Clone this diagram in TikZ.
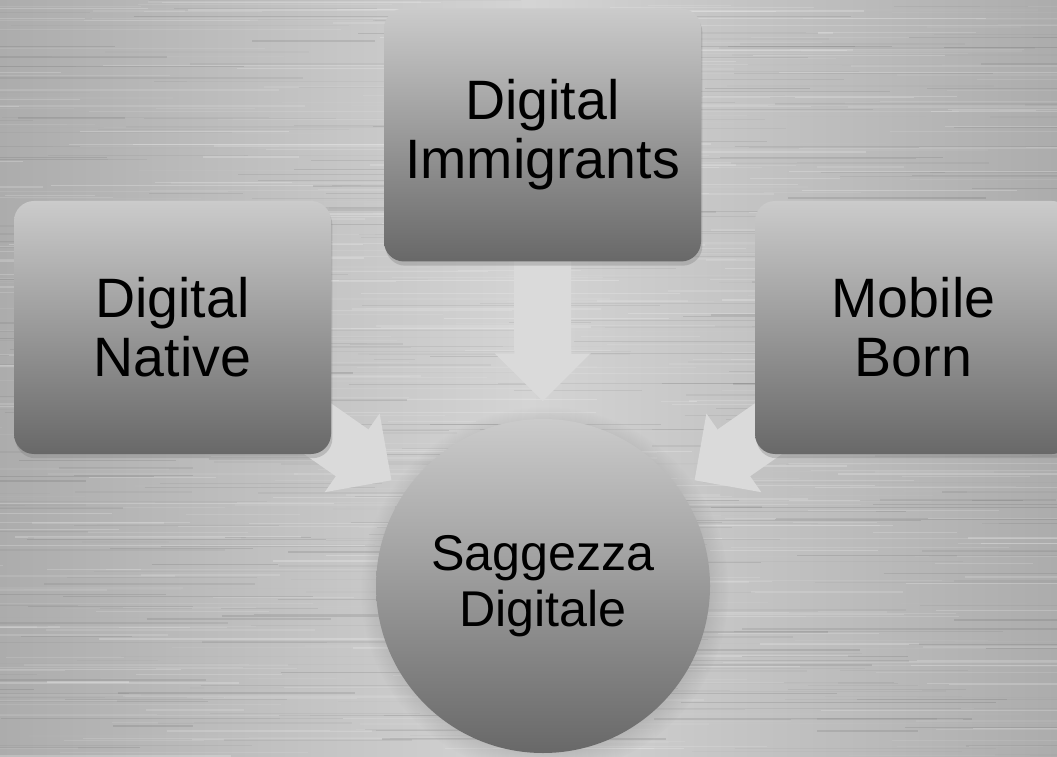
\documentclass[tikz,border=0pt]{standalone}
\usepackage{fontspec}
\setmainfont{Liberation Sans}
\usetikzlibrary{arrows.meta}
\usetikzlibrary{shadows}

\definecolor{bgmid}{RGB}{212,212,212}
\definecolor{bgedge}{RGB}{172,172,172}
\definecolor{boxtop}{RGB}{203,203,203}
\definecolor{boxbot}{RGB}{104,104,104}
\definecolor{arrowfill}{RGB}{218,218,218}

\pgfdeclarelayer{metal}
\pgfdeclarelayer{behind}
\pgfsetlayers{metal,behind,main}

\tikzset{
	genbox/.style={rectangle, rounded corners=0.2cm, minimum width=3.17cm, minimum height=2.53cm,
		inner sep=0pt, top color=boxtop, bottom color=boxbot, align=center,
		font=\fontsize{15.8}{16.8}\selectfont,
		drop shadow={shadow xshift=0.4pt, shadow yshift=-1.2pt, opacity=0.35}},
	wisdom/.style={circle, minimum size=3.34cm, inner sep=0pt, top color=boxtop, bottom color=boxbot,
		align=center, font=\fontsize{14.3}{15.8}\selectfont,
		circular drop shadow={shadow xshift=0.4pt, shadow yshift=-1.2pt, opacity=0.35}},
	fatarrow/.style={line width=0.57cm, draw=arrowfill, shorten >=0.17cm,
		-{Triangle[length=0.48cm, width=0.93cm]}}
}

\begin{document}
\begin{tikzpicture}
\useasboundingbox (0, 0) rectangle (10.57, 7.56);

\begin{pgfonlayer}{metal}
\begin{scope}
\clip (0, 0) rectangle (10.57, 7.56);
\shade[left color=bgedge, right color=bgedge, middle color=bgmid] (0, 0) rectangle (10.57, 7.56);
\pgfmathsetseed{11}
\foreach \i in {1, ..., 600}
{
	\pgfmathsetmacro{\sy}{rnd*7.56}
	\pgfmathsetmacro{\sx}{rnd*12 - 2}
	\pgfmathsetmacro{\sl}{rnd*3 + 0.8}
	\pgfmathsetmacro{\so}{rnd*0.22}
	\draw[white, opacity=\so, line width=0.35pt] (\sx, \sy) -- ++(\sl, 0);
}
\foreach \i in {1, ..., 450}
{
	\pgfmathsetmacro{\sy}{rnd*7.56}
	\pgfmathsetmacro{\sx}{rnd*12 - 2}
	\pgfmathsetmacro{\sl}{rnd*3 + 0.8}
	\pgfmathsetmacro{\so}{rnd*0.1}
	\draw[black, opacity=\so, line width=0.35pt] (\sx, \sy) -- ++(\sl, 0);
}
\end{scope}
\end{pgfonlayer}

\node[genbox] (dn) at (1.725, 4.285) {Digital\\Native};
\node[genbox] (di) at (5.425, 6.21) {Digital\\Immigrants};
\node[genbox] (mb) at (9.135, 4.285) {Mobile\\Born};
\node[wisdom] (sg) at (5.43, 1.70) {Saggezza\\Digitale};

\begin{pgfonlayer}{behind}
\draw[fatarrow] (dn.center) -- (sg);
\draw[fatarrow] (di.center) -- (sg);
\draw[fatarrow] (mb.center) -- (sg);
\end{pgfonlayer}
\end{tikzpicture}
\end{document}
